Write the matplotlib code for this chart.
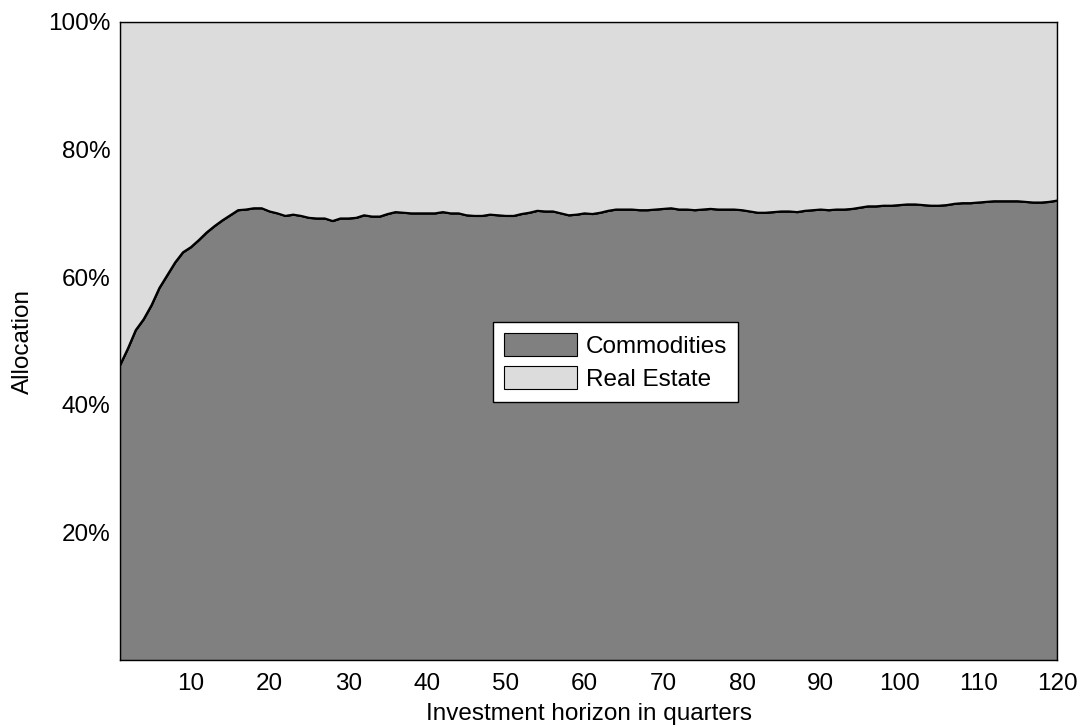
"""Allocation across investment horizon: commodities vs real estate."""

import matplotlib
matplotlib.use("Agg")
import matplotlib.pyplot as plt
import matplotlib.ticker as mticker
import numpy as np

# Data (commodities share in %)
quarters = list(range(1, 121))
commodities = [
    46.2, 48.8, 51.7, 53.4, 55.6, 58.3, 60.3, 62.3, 63.9, 64.7,
    65.8, 67.0, 68.0, 68.9, 69.7, 70.5, 70.6, 70.8, 70.8, 70.3,
    70.0, 69.6, 69.8, 69.6, 69.3, 69.2, 69.2, 68.8, 69.2, 69.2,
    69.3, 69.7, 69.5, 69.5, 69.9, 70.2, 70.1, 70.0, 70.0, 70.0,
    70.0, 70.2, 70.0, 70.0, 69.7, 69.6, 69.6, 69.8, 69.7, 69.6,
    69.6, 69.9, 70.1, 70.4, 70.3, 70.3, 70.0, 69.7, 69.8, 70.0,
    69.9, 70.1, 70.4, 70.6, 70.6, 70.6, 70.5, 70.5, 70.6, 70.7,
    70.8, 70.6, 70.6, 70.5, 70.6, 70.7, 70.6, 70.6, 70.6, 70.5,
    70.3, 70.1, 70.1, 70.2, 70.3, 70.3, 70.2, 70.4, 70.5, 70.6,
    70.5, 70.6, 70.6, 70.7, 70.9, 71.1, 71.1, 71.2, 71.2, 71.3,
    71.4, 71.4, 71.3, 71.2, 71.2, 71.3, 71.5, 71.6, 71.6, 71.7,
    71.8, 71.9, 71.9, 71.9, 71.9, 71.8, 71.7, 71.7, 71.8, 72.0,
]
real_estate = [100 - c for c in commodities]
labels = ["Commodities", "Real Estate"]
x_ticks = [10, 20, 30, 40, 50, 60, 70, 80, 90, 100, 110, 120]
y_ticks = [20, 40, 60, 80, 100]

COLORS = ["#808080", "#DCDCDC"]
plt.rcParams.update({
    "font.family": ["Liberation Sans", "DejaVu Sans"],
    "font.size": 17.5,
})

fig = plt.figure(figsize=(10.83, 7.27), dpi=100)
ax = fig.add_axes([120 / 1083, 1 - 660 / 727, 937 / 1083, 638 / 727])

ax.stackplot(quarters, commodities, real_estate, labels=labels, colors=COLORS,
             edgecolor="black", linewidth=0.8)
ax.plot(quarters, commodities, color="black", linewidth=1.6)

ax.set_xlim(1, 120)
ax.set_ylim(0, 100)
ax.set_xticks(x_ticks)
ax.set_yticks(y_ticks)
ax.yaxis.set_major_formatter(mticker.PercentFormatter(decimals=0))
ax.tick_params(length=0, pad=7)
ax.tick_params(axis="x", pad=9)
for s in ax.spines.values():
    s.set_color("black")
    s.set_linewidth(1.0)

ax.set_xlabel("Investment horizon in quarters", labelpad=6)
ax.set_ylabel("Allocation", labelpad=10)

leg = ax.legend(loc="center", bbox_to_anchor=(0.529, 0.467), fancybox=False,
                framealpha=1, edgecolor="black", handlelength=3.0,
                handleheight=1.05, borderpad=0.45, labelspacing=0.35,
                handletextpad=0.35)
leg.get_frame().set_linewidth(1.0)

fig.savefig("out.png", dpi=100)
